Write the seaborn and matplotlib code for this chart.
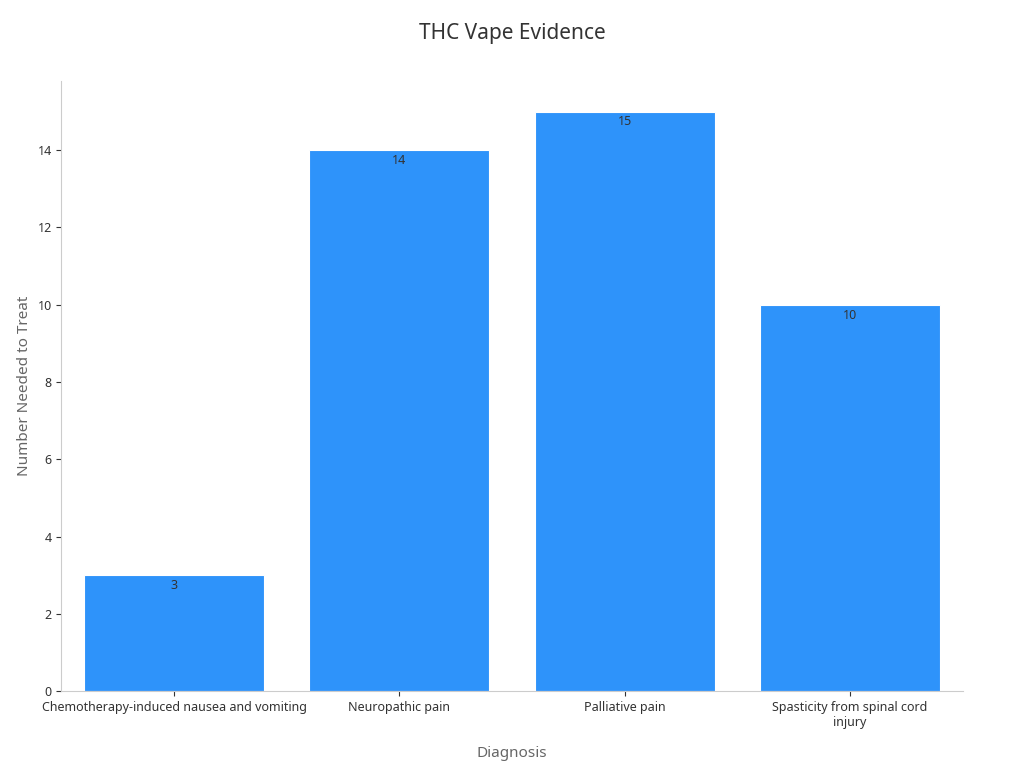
import matplotlib
matplotlib.use("Agg")
import matplotlib.pyplot as plt
import seaborn as sns
import pandas as pd

categories = ["Chemotherapy-induced nausea and vomiting", "Neuropathic pain", "Palliative pain", "Spasticity from spinal cord\ninjury"]
values = [3, 14, 15, 10]

sns.set_style("ticks")
plt.rcParams['font.family'] = ['Noto Sans', 'DejaVu Sans']
df = pd.DataFrame({"Diagnosis": categories, "NNT": values})
fig, ax = plt.subplots(figsize=(10.24, 7.68), dpi=100)
fig.subplots_adjust(left=0.06, right=0.94, top=0.895, bottom=0.1)
sns.barplot(data=df, x="Diagnosis", y="NNT", color="#2E93FA", saturation=1, width=0.8, edgecolor="white", linewidth=0.8, ax=ax)
for i, v in enumerate(values):
    ax.text(i, v - 0.1, str(v), ha="center", va="top", fontsize=9, color="#333333")
ax.set_ylim(0, 15.8)
ax.set_xlim(-0.5, 3.5)
ax.set_yticks(range(0, 15, 2))
ax.tick_params(labelsize=9, colors="#333333")
for s in ["left", "bottom"]:
    ax.spines[s].set_color("#cccccc")
sns.despine(ax=ax)
ax.set_xlabel("Diagnosis", fontsize=11, color="#666666", labelpad=12)
ax.set_ylabel("Number Needed to Treat", fontsize=11, color="#666666")
fig.suptitle("THC Vape Evidence", fontsize=15, color="#333333", y=0.97)
fig.savefig("out.png")
